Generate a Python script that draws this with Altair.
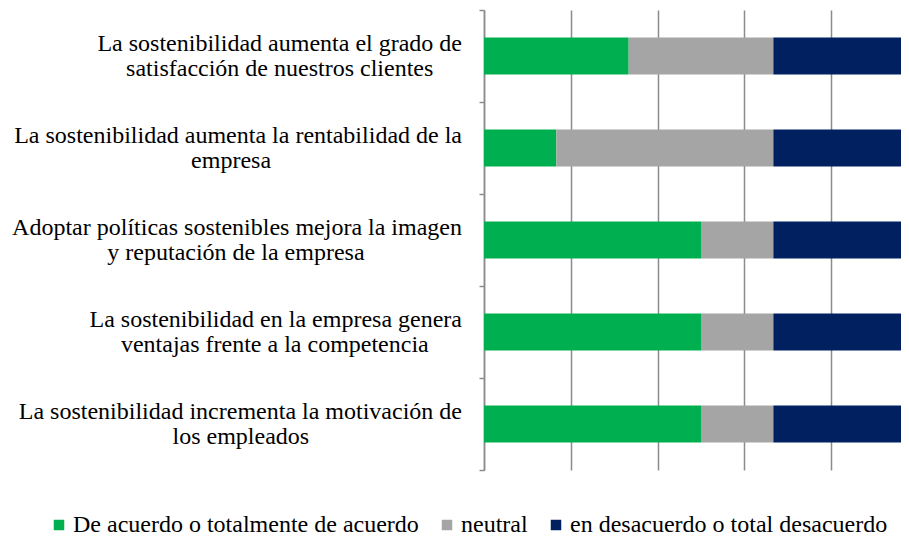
import altair as alt
import pandas as pd

# Categories (top to bottom), each split in two lines as in the reference
line1 = [
    "La sostenibilidad aumenta el grado de",
    "La sostenibilidad aumenta la rentabilidad de la",
    "Adoptar políticas sostenibles mejora la imagen",
    "La sostenibilidad en la empresa genera",
    "La sostenibilidad incrementa la motivación de",
]
line2 = [
    "satisfacción de nuestros clientes",
    "empresa",
    "y reputación de la empresa",
    "ventajas frente a la competencia",
    "los empleados",
]
categories = [a + " " + b for a, b in zip(line1, line2)]

series = [
    "De acuerdo o totalmente de acuerdo",
    "neutral",
    "en desacuerdo o total desacuerdo",
]
acuerdo = [2, 1, 3, 3, 3]
neutral = [2, 3, 1, 1, 1]
desacuerdo = [2, 2, 2, 2, 2]
colors = ["#00B050", "#A5A5A5", "#002060"]

rows = []
for i, c in enumerate(categories):
    for k, (s, vals) in enumerate(zip(series, [acuerdo, neutral, desacuerdo])):
        rows.append({"cat": c, "serie": s, "n": vals[i], "k": k})
df = pd.DataFrame(rows)
labels_df = pd.DataFrame({"cat": categories, "l1": line1, "l2": line2})

FONT = "Liberation Serif"
GRID = "#8C8C8C"

y_enc = alt.Y(
    "cat:N",
    sort=categories,
    scale=alt.Scale(paddingInner=0, paddingOuter=0),
    axis=alt.Axis(
        labels=False,
        title=None,
        tickBand="extent",
        tickSize=5,
        tickColor=GRID,
        tickWidth=1.5,
        domainColor=GRID,
        domainWidth=1.5,
        grid=False,
    ),
)

bars = alt.Chart(df).mark_bar(height={"band": 0.4}, clip=True).encode(
    x=alt.X(
        "n:Q",
        stack="normalize",
        scale=alt.Scale(domain=[0, 0.9608], nice=False, zero=True),
        axis=alt.Axis(
            values=[0, 0.2, 0.4, 0.6, 0.8],
            labels=False,
            ticks=False,
            domain=False,
            title=None,
            grid=True,
            gridColor=GRID,
            gridWidth=1.5,
        ),
    ),
    y=y_enc,
    color=alt.Color(
        "serie:N",
        scale=alt.Scale(domain=series, range=colors),
        legend=alt.Legend(
            orient="none",
            legendX=-437,
            legendY=503,
            direction="horizontal",
            title=None,
            symbolType="square",
            symbolSize=110,
            symbolStrokeWidth=0,
            labelFont=FONT,
            labelFontSize=24,
            labelColor="#000000",
            labelLimit=600,
            labelOffset=2,
            columnPadding=16,
        ),
    ),
    order=alt.Order("k:Q"),
)

text1 = alt.Chart(labels_df).mark_text(
    font=FONT, fontSize=24, color="#000000", align="right", baseline="alphabetic", dy=-5
).encode(
    x=alt.value(-22),
    y=alt.Y("cat:N", sort=categories),
    text="l1:N",
)

text2 = alt.Chart(labels_df).mark_text(
    font=FONT, fontSize=24, color="#000000", align="center", baseline="alphabetic", dy=20,
    dx={"expr": "-length(datum.l1) * 4.86 - 2.5"},
).encode(
    x=alt.value(-22),
    y=alt.Y("cat:N", sort=categories),
    text="l2:N",
)

chart = (
    alt.layer(bars, text1, text2)
    .properties(
        width=417,
        height=460,
        autosize=alt.AutoSizeParams(type="none"),
        padding={"left": 476, "top": 2, "right": 0, "bottom": 70},
    )
    .configure_view(strokeWidth=0)
)

chart.save("out.html", embed_options={"renderer": "svg", "actions": False})
